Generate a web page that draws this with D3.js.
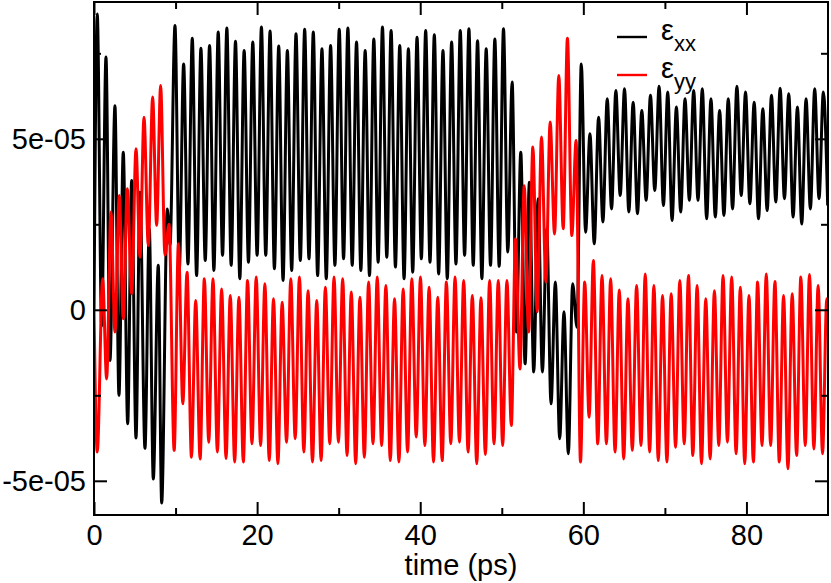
<!DOCTYPE html>
<html><head><meta charset="utf-8">
<script src="https://cdn.jsdelivr.net/npm/d3@7/dist/d3.min.js"></script>
<style>
body{margin:0;background:#fff}
svg{display:block}
text{font-family:"Liberation Sans",Arial,Helvetica,sans-serif;fill:#000}
</style>
</head><body>
<svg id="chart" width="831" height="583"></svg>
<script>
// ---- axis ticks ----
const xTicks = [0, 20, 40, 60, 80];
const xMinorTicks = [10, 30, 50, 70];
const yTicks = [-5, 0, 5];                 // in units of 1e-5
const yTickLabels = ["-5e-05", "0", "5e-05"];
const yMinorTicks = [-2.5, 2.5, 7.5];
const xLabel = "time (ps)";
const seriesNames = ["xx", "yy"];
const seriesColors = ["#000000", "#ff0000"];

// ---- ε_xx (values in 1e-5) : maxima and minima ----
const exxPeakT = [0.40,1.47,2.57,3.59,4.62,5.64,6.78,7.88,8.99,
 9.93,10.99,12.05,13.11,14.17,15.23,16.29,17.35,18.41,19.47,20.53,21.59,22.65,23.71,24.77,25.83,26.89,27.95,29.01,30.07,
 31.13,32.19,33.25,34.31,35.37,36.43,37.49,38.55,39.61,40.67,41.73,42.79,43.85,44.91,45.97,47.03,48.09,49.15,50.21,
 51.27,52.33,53.39,54.45,55.51,56.57,57.63,58.69,59.75,60.81,61.87,62.93,63.99,65.05,66.11,67.17,68.23,69.29,70.35,
 71.41,72.47,73.53,74.59,75.65,76.71,77.77,78.83,79.89,80.95,82.01,83.07,84.13,85.19,86.25,87.31,88.37,89.43];
const exxPeakV = [8.65,7.39,5.97,4.61,3.78,3.44,2.37,1.30,2.95,
 8.31,7.19,7.94,7.65,7.73,8.12,8.24,7.85,7.58,7.83,8.27,8.15,7.71,7.58,8.07,8.20,8.12,7.63,7.73,8.20,
 8.24,7.83,7.58,7.92,8.27,8.17,7.73,7.63,7.97,8.17,8.04,7.58,7.83,8.17,8.22,7.87,7.63,7.92,8.22,
 6.66,4.61,3.73,3.25,2.37,0.81,-0.06,0.76,7.19,5.15,5.63,6.17,6.41,6.46,6.07,5.83,6.27,6.54,6.37,
 5.93,6.17,6.41,6.46,6.17,5.83,6.17,6.54,6.37,6.07,5.88,6.27,6.48,6.32,5.93,6.17,6.46,6.37];
const exxTroughT = [0.00,0.94,1.96,3.06,4.13,5.15,6.25,7.27,8.30,9.32,
 10.46,11.52,12.58,13.64,14.70,15.76,16.82,17.88,18.94,20.00,21.06,22.12,23.18,24.24,25.30,26.36,27.42,28.48,29.54,
 30.60,31.66,32.72,33.78,34.84,35.90,36.96,38.02,39.08,40.14,41.20,42.26,43.32,44.38,45.44,46.50,47.56,48.62,49.68,
 50.74,51.80,52.86,53.92,54.98,56.04,57.10,58.16,59.22,60.28,61.34,62.40,63.46,64.52,65.58,66.64,67.70,68.76,69.82,
 70.88,71.94,73.00,74.06,75.12,76.18,77.24,78.30,79.36,80.42,81.48,82.54,83.60,84.66,85.72,86.78,87.84,88.90,89.96];
const exxTroughV = [0.00,-0.47,-1.48,-2.50,-3.33,-3.75,-4.05,-4.95,-5.65,1.90,
 1.20,1.34,1.00,1.44,1.15,1.59,1.30,0.91,1.39,1.59,1.59,1.20,0.86,1.15,1.44,1.49,1.00,0.91,1.30,
 1.49,1.30,1.15,1.00,1.39,1.54,1.25,0.91,1.10,1.49,1.39,1.05,0.91,1.34,1.59,1.30,0.91,1.30,1.27,
 1.69,-0.65,-1.58,-1.82,-1.82,-2.75,-3.77,-4.21,-0.51,2.27,1.93,2.57,2.95,3.34,2.86,2.81,3.20,3.49,3.05,
 2.61,2.86,3.20,3.20,2.66,2.71,2.76,2.95,3.34,3.10,2.66,2.90,3.15,3.25,2.71,2.51,2.95,3.25,3.05];

// ---- ε_yy (values in 1e-5) ----
const eyyPeakT = [1.06,2.08,3.10,4.08,5.15,6.13,7.19,8.17,9.20,
 10.35,11.41,12.47,13.53,14.59,15.65,16.71,17.77,18.83,19.89,20.95,22.01,23.07,24.13,25.19,26.25,27.31,28.37,29.43,30.49,
 31.55,32.61,33.67,34.73,35.79,36.85,37.91,38.97,40.03,41.09,42.15,43.21,44.27,45.33,46.39,47.45,48.51,49.57,50.63,
 51.69,52.75,53.81,54.87,55.93,56.99,58.05,59.11,60.17,61.23,62.29,63.35,64.41,65.47,66.53,67.59,68.65,69.71,70.77,
 71.83,72.89,73.95,75.01,76.07,77.13,78.19,79.25,80.31,81.37,82.43,83.49,84.55,85.61,86.67,87.73,88.79,89.85];
const eyyPeakV = [0.91,2.86,3.34,3.54,4.71,5.63,6.22,6.56,2.50,
 1.93,1.10,0.27,0.91,0.91,0.61,0.42,0.37,0.86,0.96,0.76,0.32,0.22,0.91,0.96,0.56,0.27,0.66,0.96,0.91,
 0.52,0.37,0.81,0.96,0.71,0.32,0.61,0.91,0.96,0.66,0.37,0.81,0.96,0.86,0.42,0.35,0.86,0.86,0.86,
 2.08,3.63,4.76,5.05,5.49,6.85,7.94,4.95,0.81,1.44,1.00,0.91,0.58,0.32,0.71,1.05,0.71,0.42,0.47,
 0.86,1.00,0.71,0.32,0.56,1.00,0.96,0.66,0.42,0.81,1.05,0.83,0.42,0.47,0.96,1.03,0.71,0.32];
const eyyTroughT = [0.00,0.40,1.55,2.57,3.59,4.62,5.64,6.66,7.68,8.70,
 9.83,10.89,11.95,13.01,14.07,15.13,16.19,17.25,18.31,19.37,20.43,21.49,22.55,23.61,24.67,25.73,26.79,27.85,28.91,
 29.97,31.03,32.09,33.15,34.21,35.27,36.33,37.39,38.45,39.51,40.57,41.63,42.69,43.75,44.81,45.87,46.93,47.99,49.05,
 50.11,51.17,52.23,53.29,54.35,55.41,56.47,57.53,58.59,59.65,60.71,61.77,62.83,63.89,64.95,66.01,67.07,68.13,69.19,
 70.25,71.31,72.37,73.43,74.49,75.55,76.61,77.67,78.73,79.79,80.85,81.91,82.97,84.03,85.09,86.15,87.21,88.27,89.33,90.00];
const eyyTroughV = [0.00,-4.16,-2.02,-0.65,-0.26,0.47,1.54,1.88,2.47,1.60,
 -4.11,-2.75,-4.31,-4.36,-3.87,-4.16,-4.35,-4.45,-4.45,-3.92,-3.97,-4.41,-4.50,-3.87,-3.77,-4.16,-4.45,-4.41,-3.92,
 -3.87,-4.26,-4.50,-4.31,-3.92,-3.97,-4.41,-4.45,-4.16,-3.72,-3.97,-4.45,-4.41,-3.92,-3.87,-4.16,-4.50,-4.23,-3.92,
 -3.97,-3.38,-1.73,-0.65,-0.06,0.81,2.22,2.37,2.17,-4.45,-3.14,-3.92,-3.92,-4.16,-4.36,-4.11,-3.97,-4.16,-4.41,-4.45,
 -4.02,-3.92,-4.26,-4.50,-4.36,-3.97,-3.87,-4.21,-4.50,-4.45,-3.97,-3.97,-4.45,-4.65,-4.26,-3.97,-4.07,-4.21,0.10];

// ---- layout ----
const W = 831, H = 583;
const margin = {left: 94, right: 3, top: 2, bottom: 68};
const svg = d3.select("#chart");
const x = d3.scaleLinear().domain([0, 90]).range([margin.left, W - margin.right]);
const y = d3.scaleLinear().domain([-6, 9]).range([H - margin.bottom, margin.top]);

function merge(pt, pv, tt, tv) {
  const pts = pt.map((t, i) => [t, pv[i]]).concat(tt.map((t, i) => [t, tv[i]]));
  pts.sort((a, b) => a[0] - b[0]);
  return pts;
}
const exx = merge(exxPeakT, exxPeakV, exxTroughT, exxTroughV);
const eyy = merge(eyyPeakT, eyyPeakV, eyyTroughT, eyyTroughV);

svg.append("defs").append("clipPath").attr("id", "clip")
  .append("rect").attr("x", x(0)).attr("y", y(9)).attr("width", x(90) - x(0)).attr("height", y(-6) - y(9));

const line = d3.line().x(d => x(d[0])).y(d => y(d[1])).curve(d3.curveMonotoneX);
const g = svg.append("g").attr("clip-path", "url(#clip)");
[exx, eyy].forEach((data, i) => {
  g.append("path").datum(data).attr("d", line)
    .attr("fill", "none").attr("stroke", seriesColors[i])
    .attr("stroke-width", 3).attr("stroke-linejoin", "round");
});

// ---- axes (inward ticks on all four sides) ----
const fs = "29px";
function style(sel) {
  sel.select(".domain").remove();
  sel.selectAll(".tick line").attr("stroke", "#000").attr("stroke-width", 2);
  sel.selectAll("text").style("font-size", fs).style("font-family", '"Liberation Sans", Arial, sans-serif').attr("fill", "#000");
}
const yb = y(-6), yt = y(9), xl = x(0), xr = x(90);
svg.append("g").attr("transform", `translate(0,${yb})`)
  .call(d3.axisBottom(x).tickValues(xTicks).tickSize(-13).tickPadding(9).tickFormat(d3.format("d"))).call(style);
svg.append("g").attr("transform", `translate(0,${yb})`)
  .call(d3.axisBottom(x).tickValues(xMinorTicks).tickSize(-7).tickFormat("")).call(style);
svg.append("g").attr("transform", `translate(0,${yt})`)
  .call(d3.axisTop(x).tickValues(xTicks).tickSize(-13).tickFormat("")).call(style);
svg.append("g").attr("transform", `translate(0,${yt})`)
  .call(d3.axisTop(x).tickValues(xMinorTicks).tickSize(-7).tickFormat("")).call(style);
svg.append("g").attr("transform", `translate(${xl},0)`)
  .call(d3.axisLeft(y).tickValues(yTicks).tickSize(-13).tickPadding(8).tickFormat((d, i) => yTickLabels[i])).call(style);
svg.append("g").attr("transform", `translate(${xl},0)`)
  .call(d3.axisLeft(y).tickValues(yMinorTicks).tickSize(-7).tickFormat("")).call(style);
svg.append("g").attr("transform", `translate(${xr},0)`)
  .call(d3.axisRight(y).tickValues(yTicks).tickSize(-13).tickFormat("")).call(style);
svg.append("g").attr("transform", `translate(${xr},0)`)
  .call(d3.axisRight(y).tickValues(yMinorTicks).tickSize(-7).tickFormat("")).call(style);

// frame
svg.append("rect").attr("x", xl).attr("y", yt).attr("width", xr - xl).attr("height", yb - yt)
  .attr("fill", "none").attr("stroke", "#000").attr("stroke-width", 2);

// x label
svg.append("text").attr("x", (xl + xr) / 2).attr("y", 575).attr("text-anchor", "middle")
  .style("font-size", fs).text(xLabel);

// legend
const leg = svg.append("g");
const legY = [37, 75];
const legBase = [40, 77.5];
seriesNames.forEach((n, i) => {
  leg.append("line").attr("x1", 617).attr("x2", 647).attr("y1", legY[i]).attr("y2", legY[i])
    .attr("stroke", seriesColors[i]).attr("stroke-width", 2.4);
  const t = leg.append("text").attr("x", 661).attr("y", legBase[i]).style("font-size", "29px");
  t.append("tspan").text("ε");
  t.append("tspan").attr("dy", 11).style("font-size", "22px").text(n);
});
</script>
</body></html>
